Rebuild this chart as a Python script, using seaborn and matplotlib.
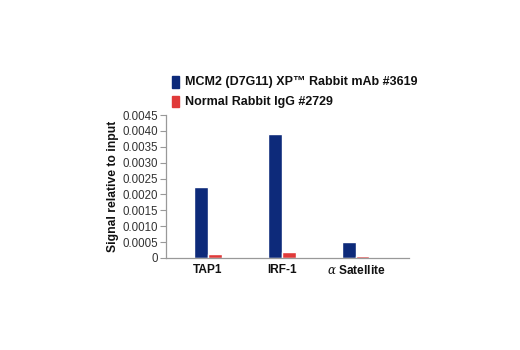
import matplotlib
matplotlib.use("Agg")
import matplotlib.pyplot as plt
import seaborn as sns
import pandas as pd

targets = ["TAP1", "IRF-1", r"$\alpha$ Satellite"]
mcm2_signal = [0.00225, 0.0039, 0.0005]
igg_signal = [0.000125, 0.0002, 0.00005]
series_names = ["MCM2 (D7G11) XP™ Rabbit mAb #3619", "Normal Rabbit IgG #2729"]
y_ticks = [0, 0.0005, 0.0010, 0.0015, 0.0020, 0.0025, 0.0030, 0.0035, 0.0040, 0.0045]
y_tick_labels = ["0", "0.0005", "0.0010", "0.0015", "0.0020", "0.0025",
                 "0.0030", "0.0035", "0.0040", "0.0045"]

sns.set_style("white")
plt.rcParams["font.family"] = ["Liberation Sans", "DejaVu Sans"]
plt.rcParams["mathtext.fontset"] = "dejavuserif"

df = pd.DataFrame({
    "target": targets * 2,
    "signal": mcm2_signal + igg_signal,
    "series": [series_names[0]] * 3 + [series_names[1]] * 3,
})

fig = plt.figure(figsize=(5.2, 3.5), dpi=100)
ax = fig.add_axes([166 / 520, 1 - 258 / 350, 243 / 520, 143 / 350])
palette = {series_names[0]: "#0d2a7a", series_names[1]: "#e03a3a"}
sns.barplot(data=df, x="target", y="signal", hue="series", palette=palette,
            width=0.37, gap=0, ax=ax, legend=False, saturation=1)

ax.set_xlim(-0.57, 2.72)
ax.set_ylim(0, 0.0045)
ax.set_yticks(y_ticks)
ax.set_yticklabels(y_tick_labels, fontsize=8.3, color="#333333")
ax.tick_params(axis="y", length=4, width=0.8, color="#999999", pad=2, left=True)
ax.tick_params(axis="x", length=0, pad=4)
for lbl in ax.get_xticklabels():
    lbl.set_fontweight("bold")
    lbl.set_fontsize(8.6)
    lbl.set_color("#111111")
ax.set_xlabel("")
ax.set_ylabel("Signal relative to input", fontsize=8.7, fontweight="bold",
              color="#111111", labelpad=2)
for side in ["top", "right"]:
    ax.spines[side].set_visible(False)
for side in ["left", "bottom"]:
    ax.spines[side].set_color("#999999")
    ax.spines[side].set_linewidth(0.9)

# legend entries above the plot
for i, name in enumerate(series_names):
    y = 1 - (82 + i * 19.5) / 350
    fig.patches.append(plt.Rectangle((172 / 520, y - 0.016), 7 / 520, 0.032,
                                     transform=fig.transFigure,
                                     color=palette[name], figure=fig))
    fig.text(185 / 520, y, name, fontsize=9, fontweight="bold",
             va="center", ha="left", color="#111111")

fig.savefig("out.png", dpi=100)
